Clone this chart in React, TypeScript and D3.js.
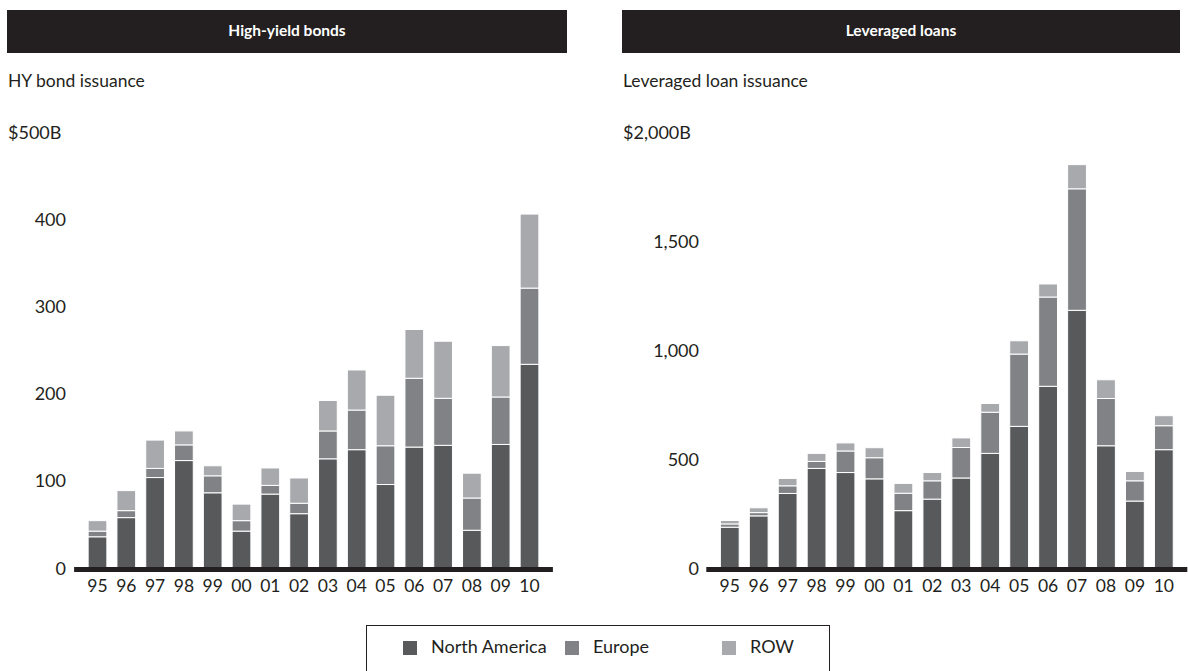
import React from "react";
import * as d3 from "d3";

const years = ["95", "96", "97", "98", "99", "00", "01", "02", "03", "04", "05", "06", "07", "08", "09", "10"];
const seriesNames = ["North America", "Europe", "ROW"];
const seriesColors = ["#58595b", "#808285", "#a7a9ac"];

// High-yield bonds, $B
const hyNorthAmerica = [37, 59, 105, 124.5, 87.5, 43.5, 86, 63.5, 126.5, 137, 97, 140, 142, 44.5, 143, 235];
const hyEurope = [6.5, 8, 10.5, 18, 19.5, 12, 10, 12, 32, 45.5, 44.5, 79, 54, 37, 54.5, 87.5];
const hyRow = [12, 23, 32.5, 16, 11.5, 19, 20, 29, 35, 46, 58, 56, 65.5, 28.5, 59, 85];
const hyTicks = [0, 100, 200, 300, 400, 500];

// Leveraged loans, $B
const llNorthAmerica = [192, 244, 347, 462, 443, 414, 268, 321, 418, 531, 655, 839, 1188, 566, 312, 548];
const llEurope = [15, 15, 35, 32, 99, 97, 80, 84, 140, 189, 332, 410, 558, 217, 93, 110];
const llRow = [16, 22, 34, 37, 37, 46, 45, 38, 44, 40, 61, 60, 111, 86, 43, 46];
const llTicks = [0, 500, 1000, 1500, 2000];

const font = "Lato, 'Open Sans', sans-serif";
const ink = "#231f20";

type PanelProps = {
  title: string;
  subtitle: string;
  left: number;
  right: number;
  labelRight: number;
  barsFrom: number;
  barsTo: number;
  ticks: number[];
  topLabel: string;
  na: number[];
  eu: number[];
  row: number[];
};

const Panel = (p: PanelProps) => {
  const y = d3.scaleLinear().domain([0, p.ticks[p.ticks.length - 1]]).range([569, 133.5]);
  const x = d3.scaleBand().domain(years).range([p.barsFrom, p.barsTo]).paddingInner(0.35).paddingOuter(0.175);
  const table = years.map((yr, i) => ({ year: yr, na: p.na[i], eu: p.eu[i], row: p.row[i] }));
  const stacked = d3.stack<any>().keys(["na", "eu", "row"])(table);
  const fmt = d3.format(",");
  const baseY = y(0);

  return (
    <g>
      <rect x={p.left} y={10} width={p.right - p.left} height={43} fill={ink} />
      <text x={(p.left + p.right) / 2} y={32} fill="#fff" fontSize={15.5} fontWeight={700}
        textAnchor="middle" dominantBaseline="middle" fontFamily={font}>{p.title}</text>
      <text x={p.left + 1} y={83} fill={ink} fontSize={17.5} dominantBaseline="middle" fontFamily={font}>{p.subtitle}</text>

      {p.ticks.map((t, i) =>
        i === p.ticks.length - 1 ? (
          <text key={t} x={p.left + 1} y={y(t) + 1} fill={ink} fontSize={18}
            dominantBaseline="middle" fontFamily={font}>{p.topLabel}</text>
        ) : (
          <text key={t} x={p.labelRight} y={y(t) + 1} fill={ink} fontSize={18} textAnchor="end"
            dominantBaseline="middle" fontFamily={font}>{fmt(t)}</text>
        )
      )}

      {stacked.map((layer, k) => (
        <g key={layer.key} fill={seriesColors[k]}>
          {layer.map((d: any) => (
            <rect key={d.data.year} x={x(d.data.year)} y={y(d[1])} width={x.bandwidth()}
              height={y(d[0]) - y(d[1])} stroke="#fff" strokeWidth={1} />
          ))}
        </g>
      ))}

      <line x1={p.barsFrom - 9} x2={p.barsTo + 9} y1={baseY + 0.5} y2={baseY + 0.5} stroke={ink} strokeWidth={5} />

      {years.map((yr) => (
        <text key={yr} x={(x(yr) as number) + x.bandwidth() / 2} y={588} fill={ink} fontSize={17.5}
          textAnchor="middle" dominantBaseline="middle" fontFamily={font}>{yr}</text>
      ))}
    </g>
  );
};

const legendX = [403, 565, 722];

export default function App() {
  return (
    <svg width={1188} height={671} style={{ position: "absolute", left: 0, top: 0, background: "#fff" }}>
      <Panel title="High-yield bonds" subtitle="HY bond issuance" left={7} right={567} labelRight={66}
        barsFrom={83.1} barsTo={543.9} ticks={hyTicks} topLabel="$500B"
        na={hyNorthAmerica} eu={hyEurope} row={hyRow} />
      <Panel title="Leveraged loans" subtitle="Leveraged loan issuance" left={622} right={1180} labelRight={699}
        barsFrom={715.3} barsTo={1178.3} ticks={llTicks} topLabel="$2,000B"
        na={llNorthAmerica} eu={llEurope} row={llRow} />

      <rect x={366.5} y={625.5} width={463} height={60} fill="none" stroke={ink} strokeWidth={1} />
      {seriesNames.map((name, i) => (
        <g key={name}>
          <rect x={legendX[i]} y={641} width={14} height={14} fill={seriesColors[i]} />
          <text x={legendX[i] + 28} y={648.5} fill={ink} fontSize={18} dominantBaseline="middle" fontFamily={font}>{name}</text>
        </g>
      ))}
    </svg>
  );
}
